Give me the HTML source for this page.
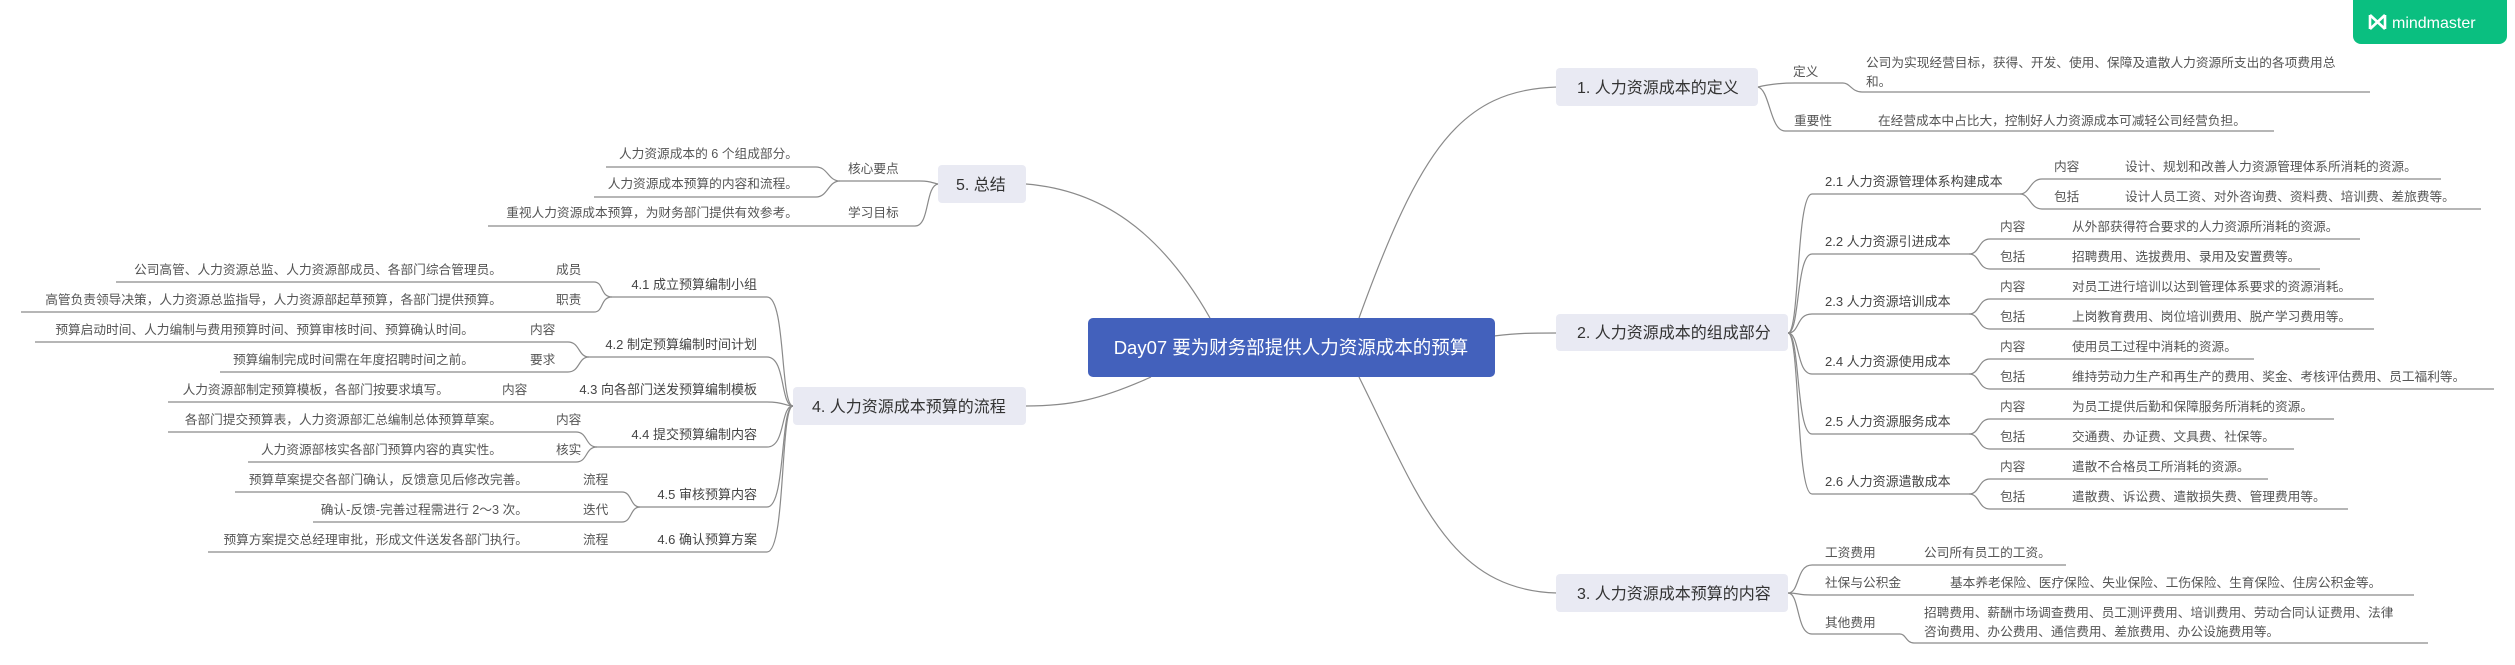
<!DOCTYPE html>
<html><head><meta charset="utf-8"><style>
html,body{margin:0;padding:0;background:#fff;}
svg{display:block;}
text{font-family:"Liberation Sans","Noto Sans CJK SC",sans-serif;fill:#444;}
.l{fill:none;stroke:#8a8a8a;stroke-width:1.2;}
.m{font-size:16px;fill:#333;}
.s{font-size:13px;fill:#444;}
.t{font-size:12.7px;fill:#555;}
.n{fill:#e9eaf3;}
</style></head><body>
<svg width="2515" height="665" viewBox="0 0 2515 665" xmlns="http://www.w3.org/2000/svg">
<!-- logo -->
<path d="M2353 0 H2507 V36 a8 8 0 0 1 -8 8 H2361 a8 8 0 0 1 -8 -8 Z" fill="#0abf80"/>
<path d="M2370 15 L2370 29 M2370 15 L2385 29 M2385 15 L2385 29 M2385 15 L2370 29" stroke="#fff" stroke-width="2.6" fill="none"/>
<text x="2392" y="28" style="font-size:16px;fill:#fff;font-family:'Liberation Sans',sans-serif;">mindmaster</text>

<!-- main connectors -->
<path class="l" d="M1210 318 C1160 230, 1100 190, 1026 184"/>
<path class="l" d="M1359 318 C1420 150, 1460 90, 1557 87"/>
<path class="l" d="M1494 336 C1520 333, 1530 333, 1557 333"/>
<path class="l" d="M1359 377 C1420 500, 1450 590, 1557 593"/>
<path class="l" d="M1151 377 C1100 400, 1070 406, 1026 406"/>

<!-- center -->
<rect x="1088" y="318" width="407" height="59" rx="5" fill="#4361bc"/>
<text x="1291" y="354" text-anchor="middle" style="font-size:18.5px;fill:#fff;">Day07 要为财务部提供人力资源成本的预算</text>

<!-- main nodes -->
<rect class="n" x="1556" y="68" width="202" height="38" rx="4"/>
<text class="m" x="1577" y="93">1. 人力资源成本的定义</text>
<rect class="n" x="1556" y="314" width="232" height="37" rx="4"/>
<text class="m" x="1577" y="338">2. 人力资源成本的组成部分</text>
<rect class="n" x="1556" y="574" width="232" height="38" rx="4"/>
<text class="m" x="1577" y="599">3. 人力资源成本预算的内容</text>
<rect class="n" x="938" y="165" width="88" height="38" rx="4"/>
<text class="m" x="956" y="190">5. 总结</text>
<rect class="n" x="793" y="387" width="233" height="38" rx="4"/>
<text class="m" x="812" y="412">4. 人力资源成本预算的流程</text>

<!-- node1 children -->
<path class="l" d="M1758 87 C1770 84, 1780 83, 1795 83 L1843 83 C1850 83, 1852 92, 1862 92 L2370 92"/>
<path class="l" d="M1758 87 C1770 90, 1770 131, 1785 131 L2274 131"/>
<text class="t" x="1793" y="76">定义</text>
<text class="t" x="1866" y="67">公司为实现经营目标，获得、开发、使用、保障及遣散人力资源所支出的各项费用总</text>
<text class="t" x="1866" y="86">和。</text>
<text class="t" x="1794" y="125">重要性</text>
<text class="t" x="1878" y="125">在经营成本中占比大，控制好人力资源成本可减轻公司经营负担。</text>

<!-- node2 children -->
<g>
<path class="l" d="M1788 333 C1800 333, 1796 194, 1812 194 L2020 194"/>
<path class="l" d="M2020 194 C2030 194, 2030 179, 2042 179 L2441 179"/>
<path class="l" d="M2020 194 C2030 194, 2030 209, 2042 209 L2481 209"/>
<text class="s" x="1825" y="186">2.1 人力资源管理体系构建成本</text>
<text class="t" x="2054" y="171">内容</text><text class="t" x="2125" y="171">设计、规划和改善人力资源管理体系所消耗的资源。</text>
<text class="t" x="2054" y="201">包括</text><text class="t" x="2125" y="201">设计人员工资、对外咨询费、资料费、培训费、差旅费等。</text>
</g>
<path class="l" d="M1788 333 C1800 333, 1796 254, 1812 254 L1969 254"/>
<path class="l" d="M1788 333 C1800 333, 1796 314, 1812 314 L1969 314"/>
<path class="l" d="M1788 333 C1800 333, 1796 374, 1812 374 L1969 374"/>
<path class="l" d="M1788 333 C1800 333, 1796 434, 1812 434 L1969 434"/>
<path class="l" d="M1788 333 C1800 333, 1796 494, 1812 494 L1969 494"/>
<g>
<path class="l" d="M1969 254 C1980 254, 1978 239, 1990 239 L2360 239"/>
<path class="l" d="M1969 254 C1980 254, 1978 269, 1990 269 L2320 269"/>
<text class="s" x="1825" y="246">2.2 人力资源引进成本</text>
<text class="t" x="2000" y="231">内容</text><text class="t" x="2072" y="231">从外部获得符合要求的人力资源所消耗的资源。</text>
<text class="t" x="2000" y="261">包括</text><text class="t" x="2072" y="261">招聘费用、选拔费用、录用及安置费等。</text>
</g>
<g>
<path class="l" d="M1969 314 C1980 314, 1978 299, 1990 299 L2374 299"/>
<path class="l" d="M1969 314 C1980 314, 1978 329, 1990 329 L2374 329"/>
<text class="s" x="1825" y="306">2.3 人力资源培训成本</text>
<text class="t" x="2000" y="291">内容</text><text class="t" x="2072" y="291">对员工进行培训以达到管理体系要求的资源消耗。</text>
<text class="t" x="2000" y="321">包括</text><text class="t" x="2072" y="321">上岗教育费用、岗位培训费用、脱产学习费用等。</text>
</g>
<g>
<path class="l" d="M1969 374 C1980 374, 1978 359, 1990 359 L2254 359"/>
<path class="l" d="M1969 374 C1980 374, 1978 389, 1990 389 L2494 389"/>
<text class="s" x="1825" y="366">2.4 人力资源使用成本</text>
<text class="t" x="2000" y="351">内容</text><text class="t" x="2072" y="351">使用员工过程中消耗的资源。</text>
<text class="t" x="2000" y="381">包括</text><text class="t" x="2072" y="381">维持劳动力生产和再生产的费用、奖金、考核评估费用、员工福利等。</text>
</g>
<g>
<path class="l" d="M1969 434 C1980 434, 1978 419, 1990 419 L2334 419"/>
<path class="l" d="M1969 434 C1980 434, 1978 449, 1990 449 L2294 449"/>
<text class="s" x="1825" y="426">2.5 人力资源服务成本</text>
<text class="t" x="2000" y="411">内容</text><text class="t" x="2072" y="411">为员工提供后勤和保障服务所消耗的资源。</text>
<text class="t" x="2000" y="441">包括</text><text class="t" x="2072" y="441">交通费、办证费、文具费、社保等。</text>
</g>
<g>
<path class="l" d="M1969 494 C1980 494, 1978 479, 1990 479 L2268 479"/>
<path class="l" d="M1969 494 C1980 494, 1978 509, 1990 509 L2348 509"/>
<text class="s" x="1825" y="486">2.6 人力资源遣散成本</text>
<text class="t" x="2000" y="471">内容</text><text class="t" x="2072" y="471">遣散不合格员工所消耗的资源。</text>
<text class="t" x="2000" y="501">包括</text><text class="t" x="2072" y="501">遣散费、诉讼费、遣散损失费、管理费用等。</text>
</g>

<!-- node3 children -->
<path class="l" d="M1788 593 C1800 593, 1796 565, 1812 565 L2066 565"/>
<path class="l" d="M1788 593 C1800 593, 1796 595, 1812 595 L2414 595"/>
<path class="l" d="M1788 593 C1800 593, 1796 634, 1812 634 L1900 634 C1906 634, 1906 643, 1914 643 L2428 643"/>
<text class="t" x="1825" y="557">工资费用</text><text class="t" x="1924" y="557">公司所有员工的工资。</text>
<text class="t" x="1825" y="587">社保与公积金</text><text class="t" x="1950" y="587">基本养老保险、医疗保险、失业保险、工伤保险、生育保险、住房公积金等。</text>
<text class="t" x="1825" y="627">其他费用</text>
<text class="t" x="1924" y="617">招聘费用、薪酬市场调查费用、员工测评费用、培训费用、劳动合同认证费用、法律</text>
<text class="t" x="1924" y="636">咨询费用、办公费用、通信费用、差旅费用、办公设施费用等。</text>

<!-- node5 children -->
<path class="l" d="M938 184 C930 182, 928 181, 920 181 L840 181"/>
<path class="l" d="M840 181 C828 181, 828 167, 816 167 L606 167"/>
<path class="l" d="M840 181 C828 181, 828 197, 816 197 L594 197"/>
<path class="l" d="M938 184 C925 186, 930 226, 915 226 L488 226"/>
<text class="t" x="848" y="173">核心要点</text>
<text class="t" x="848" y="217">学习目标</text>
<text class="t" x="798" y="158" text-anchor="end">人力资源成本的 6 个组成部分。</text>
<text class="t" x="798" y="188" text-anchor="end">人力资源成本预算的内容和流程。</text>
<text class="t" x="798" y="217" text-anchor="end">重视人力资源成本预算，为财务部门提供有效参考。</text>

<!-- node4 children -->
<path class="l" d="M793 406 C780 406, 786 297, 767 297 L612 297"/>
<path class="l" d="M793 406 C780 406, 786 357, 767 357 L589 357"/>
<path class="l" d="M793 406 C785 406, 785 402, 767 402 L168 402"/>
<path class="l" d="M793 406 C780 406, 786 447, 767 447 L597 447"/>
<path class="l" d="M793 406 C780 406, 786 507, 767 507 L640 507"/>
<path class="l" d="M793 406 C780 406, 786 552, 767 552 L208 552"/>
<text class="s" x="757" y="289" text-anchor="end">4.1 成立预算编制小组</text>
<text class="s" x="757" y="349" text-anchor="end">4.2 制定预算编制时间计划</text>
<text class="s" x="757" y="394" text-anchor="end">4.3 向各部门送发预算编制模板</text>
<text class="s" x="757" y="439" text-anchor="end">4.4 提交预算编制内容</text>
<text class="s" x="757" y="499" text-anchor="end">4.5 审核预算内容</text>
<text class="s" x="757" y="544" text-anchor="end">4.6 确认预算方案</text>

<path class="l" d="M612 297 C600 297, 604 282, 594 282 L116 282"/>
<path class="l" d="M612 297 C600 297, 604 312, 594 312 L21 312"/>
<text class="t" x="556" y="274">成员</text><text class="t" x="502" y="274" text-anchor="end">公司高管、人力资源总监、人力资源部成员、各部门综合管理员。</text>
<text class="t" x="556" y="304">职责</text><text class="t" x="502" y="304" text-anchor="end">高管负责领导决策，人力资源总监指导，人力资源部起草预算，各部门提供预算。</text>

<path class="l" d="M589 357 C578 357, 580 342, 568 342 L35 342"/>
<path class="l" d="M589 357 C578 357, 580 372, 568 372 L220 372"/>
<text class="t" x="530" y="334">内容</text><text class="t" x="474" y="334" text-anchor="end">预算启动时间、人力编制与费用预算时间、预算审核时间、预算确认时间。</text>
<text class="t" x="530" y="364">要求</text><text class="t" x="474" y="364" text-anchor="end">预算编制完成时间需在年度招聘时间之前。</text>

<text class="t" x="502" y="394">内容</text><text class="t" x="449" y="394" text-anchor="end">人力资源部制定预算模板，各部门按要求填写。</text>

<path class="l" d="M597 447 C585 447, 588 432, 576 432 L168 432"/>
<path class="l" d="M597 447 C585 447, 588 462, 576 462 L248 462"/>
<text class="t" x="556" y="424">内容</text><text class="t" x="502" y="424" text-anchor="end">各部门提交预算表，人力资源部汇总编制总体预算草案。</text>
<text class="t" x="556" y="454">核实</text><text class="t" x="502" y="454" text-anchor="end">人力资源部核实各部门预算内容的真实性。</text>

<path class="l" d="M640 507 C630 507, 632 492, 622 492 L235 492"/>
<path class="l" d="M640 507 C630 507, 632 522, 622 522 L313 522"/>
<text class="t" x="583" y="484">流程</text><text class="t" x="528" y="484" text-anchor="end">预算草案提交各部门确认，反馈意见后修改完善。</text>
<text class="t" x="583" y="514">迭代</text><text class="t" x="528" y="514" text-anchor="end">确认-反馈-完善过程需进行 2～3 次。</text>

<text class="t" x="583" y="544">流程</text><text class="t" x="528" y="544" text-anchor="end">预算方案提交总经理审批，形成文件送发各部门执行。</text>
</svg>
</body></html>
